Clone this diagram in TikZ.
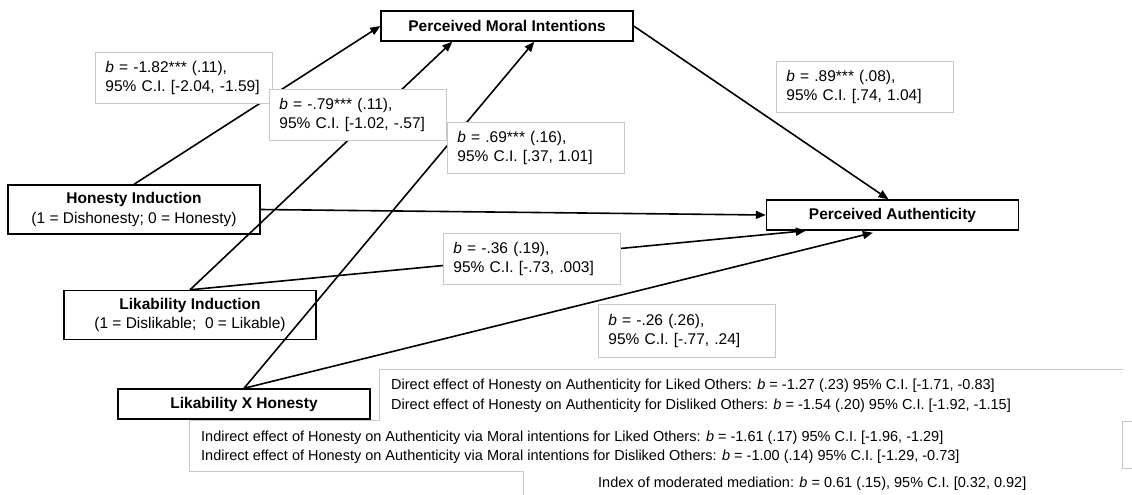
\documentclass[tikz,border=0pt]{standalone}
\usepackage{fontspec}
\setmainfont{Liberation Sans}
\usetikzlibrary{arrows.meta}
\definecolor{boxgray}{RGB}{200,200,200}
\tikzstyle{var} = [rectangle, draw=black, line width=1.4pt, fill=white, minimum width=252pt, minimum height=30pt, align=center, inner sep=2pt]
\tikzstyle{coef} = [rectangle, draw=boxgray, line width=0.8pt, fill=white, anchor=north west, text width=157pt, inner xsep=10pt, minimum height=51pt, align=left]
\tikzstyle{note} = [anchor=west, align=left, inner sep=0pt, font=\fontsize{14.5}{19.5}\selectfont]
\tikzstyle{arrow} = [line width=1.6pt, -{Triangle[length=10pt,width=8pt]}]

\begin{document}
\begin{tikzpicture}[x=1pt, y=-1pt, font=\fontsize{15.5}{19.5}\selectfont]
    \useasboundingbox (0,0) rectangle (1132,495);

    \node (moral) [var] at (507,26) {\textbf{Perceived Moral Intentions}};
    \node (auth) [var] at (892.5,215) {\textbf{Perceived Authenticity}};
    \node (hon) [var, minimum height=49pt] at (134,209.5) {\textbf{Honesty Induction}\\(1 = Dishonesty; 0 = Honesty)};
    \node (lik) [var, minimum height=49pt] at (190,315) {\textbf{Likability Induction}\\(1 = Dislikable;\ \ 0 = Likable)};
    \node (lxh) [var] at (244,404) {\textbf{Likability X Honesty}};

    % paths
    \draw [arrow] (hon.north) -- (moral.west);
    \draw [arrow] (lik.north) -- ([xshift=72pt]moral.south west);
    \draw [arrow] (lxh.north) -- ([xshift=154pt]moral.south west);
    \draw [arrow] (moral.east) -- ([xshift=-4pt]auth.north);
    \draw [arrow] (hon.east) -- (auth.west);
    \draw [arrow] (lik.north) -- ([xshift=40pt]auth.south west);
    \draw [arrow] (lxh.north) -- ([xshift=107pt, yshift=-2pt]auth.south west);

    % coefficients
    \node (c1) [coef] at (95,52) {\textit{b} = -1.82*** (.11),\\95\% C.I. [-2.04, -1.59]};
    \node (c2) [coef] at (269,89) {\textit{b} = -.79*** (.11),\\95\% C.I. [-1.02, -.57]};
    \node (c3) [coef] at (447,122) {\textit{b} = .69*** (.16),\\95\% C.I. [.37, 1.01]};
    \node (c4) [coef] at (776,61) {\textit{b} = .89*** (.08),\\95\% C.I. [.74, 1.04]};
    \node (c5) [coef] at (443,233) {\textit{b} = -.36 (.19),\\95\% C.I. [-.73, .003]};
    \node (c6) [coef, minimum height=53pt] at (598,304) {\textit{b} = -.26 (.26),\\95\% C.I. [-.77, .24]};

    % effects
    \draw [boxgray, line width=0.8pt] (1123,369) -- (379,369) -- (379,420) -- (189,420) -- (189,471) -- (523,471) -- (523,497);
    \draw [boxgray, line width=0.8pt] (1134,421) -- (1122,421) -- (1122,468) -- (1134,468);
    \node (direct) [note] at (391,395.5) {Direct effect of Honesty on Authenticity for Liked Others: \textit{b} = -1.27 (.23) 95\% C.I. [-1.71, -0.83]\\Direct effect of Honesty on Authenticity for Disliked Others: \textit{b} = -1.54 (.20) 95\% C.I. [-1.92, -1.15]};
    \node (indirect) [note] at (201,447) {Indirect effect of Honesty on Authenticity via Moral intentions for Liked Others: \textit{b} = -1.61 (.17) 95\% C.I. [-1.96, -1.29]\\Indirect effect of Honesty on Authenticity via Moral intentions for Disliked Others: \textit{b} = -1.00 (.14) 95\% C.I. [-1.29, -0.73]};
    \node (index) [note] at (598,483.5) {Index of moderated mediation: \textit{b} = 0.61 (.15), 95\% C.I. [0.32, 0.92]};
\end{tikzpicture}
\end{document}
